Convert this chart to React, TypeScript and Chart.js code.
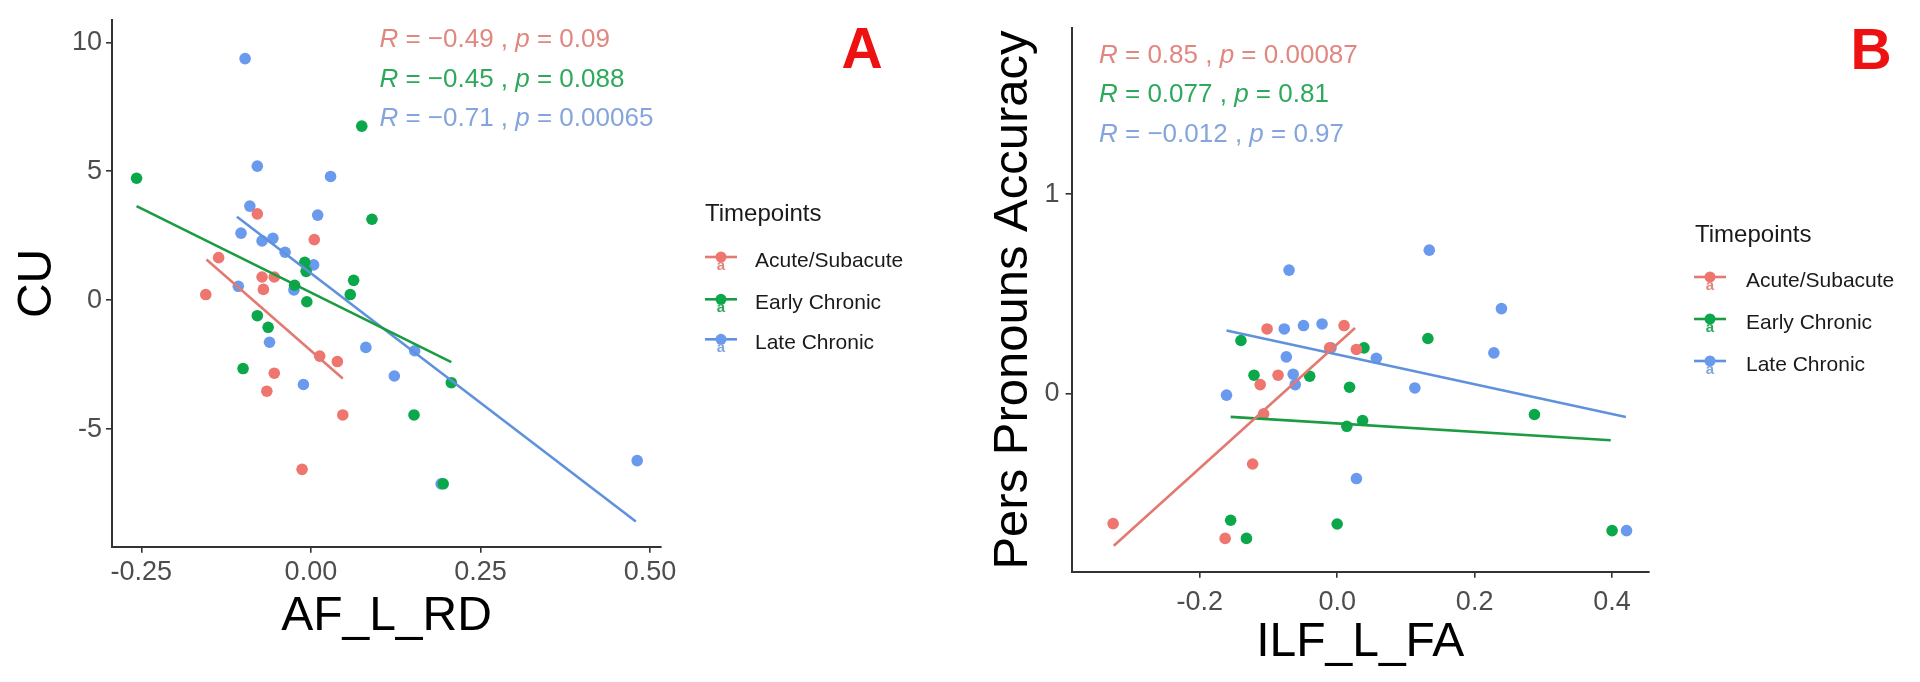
import React, { useEffect, useRef } from "react";
import { Chart, registerables } from "chart.js";

Chart.register(...registerables);

const FONT = "'Liberation Sans', Arial, Helvetica, sans-serif";

const groups = ["Acute/Subacute", "Early Chronic", "Late Chronic"];
const pointColors = ["#EE766E", "#0AA84B", "#6A9AEE"];
const lineColors = ["#E27A71", "#1B9C42", "#5F91DD"];
const statColors = ["#E0877F", "#2EA95C", "#84A5DC"];

// ---------- Panel A : AF_L_RD vs CU ----------
const aAcuteX = [-0.079, 0.005, -0.136, -0.155, -0.072, -0.054, -0.070, 0.013, 0.039, -0.054, -0.065, 0.047, -0.013];
const aAcuteY = [3.35, 2.35, 1.65, 0.22, 0.90, 0.90, 0.42, -2.17, -2.38, -2.83, -3.53, -4.45, -6.56];
const aEarlyX = [-0.257, 0.075, 0.090, -0.009, -0.007, 0.063, -0.024, 0.058, -0.006, -0.079, -0.063, -0.100, 0.207, 0.152, 0.195];
const aEarlyY = [4.73, 6.75, 3.14, 1.47, 1.12, 0.77, 0.58, 0.22, -0.06, -0.60, -1.05, -2.65, -3.20, -4.45, -7.12];
const aLateX = [-0.097, -0.079, 0.029, -0.090, 0.010, -0.103, -0.072, -0.056, -0.038, 0.004, -0.107, -0.025, -0.061, 0.081, 0.153, 0.123, -0.011, 0.192, 0.481];
const aLateY = [9.37, 5.2, 4.8, 3.65, 3.3, 2.6, 2.3, 2.4, 1.86, 1.37, 0.54, 0.40, -1.63, -1.83, -1.96, -2.94, -3.27, -7.12, -6.22];
const aAcuteFitX = [-0.154, 0.047];
const aAcuteFitY = [1.58, -3.04];
const aEarlyFitX = [-0.257, 0.207];
const aEarlyFitY = [3.65, -2.4];
const aLateFitX = [-0.109, 0.479];
const aLateFitY = [3.24, -8.58];
const aXTicks = [-0.25, 0, 0.25, 0.5];
const aXTickLabels = ["-0.25", "0.00", "0.25", "0.50"];
const aYTicks = [-5, 0, 5, 10];
const aYTickLabels = ["-5", "0", "5", "10"];
const aStatR = ["\u22120.49", "\u22120.45", "\u22120.71"];
const aStatP = ["0.09", "0.088", "0.00065"];

// ---------- Panel B : ILF_L_FA vs Pers Pronouns Accuracy ----------
const bAcuteX = [-0.102, 0.010, -0.011, 0.028, -0.086, -0.112, -0.107, -0.123, -0.326, -0.163];
const bAcuteY = [0.324, 0.341, 0.229, 0.221, 0.092, 0.045, -0.102, -0.353, -0.652, -0.726];
const bEarlyX = [-0.140, 0.132, 0.039, -0.121, -0.040, 0.018, 0.037, 0.014, 0.287, -0.155, -0.132, 0.000, 0.400];
const bEarlyY = [0.266, 0.276, 0.229, 0.092, 0.087, 0.032, -0.135, -0.164, -0.105, -0.635, -0.726, -0.654, -0.687];
const bLateX = [-0.070, 0.134, 0.239, -0.077, -0.049, -0.022, -0.009, -0.074, 0.057, 0.228, -0.064, -0.061, 0.113, -0.161, 0.028, 0.421];
const bLateY = [0.619, 0.719, 0.426, 0.324, 0.341, 0.349, 0.229, 0.184, 0.177, 0.204, 0.097, 0.045, 0.028, -0.008, -0.426, -0.687];
const bAcuteFitX = [-0.325, 0.026];
const bAcuteFitY = [-0.763, 0.329];
const bEarlyFitX = [-0.155, 0.398];
const bEarlyFitY = [-0.117, -0.234];
const bLateFitX = [-0.161, 0.420];
const bLateFitY = [0.316, -0.117];
const bXTicks = [-0.2, 0, 0.2, 0.4];
const bXTickLabels = ["-0.2", "0.0", "0.2", "0.4"];
const bYTicks = [0, 1];
const bYTickLabels = ["0", "1"];
const bStatR = ["0.85", "0.077", "\u22120.012"];
const bStatP = ["0.00087", "0.81", "0.97"];

type Spec = {
  left: number;
  xs: number[][];
  ys: number[][];
  fitXs: number[][];
  fitYs: number[][];
  xMin: number; xMax: number; yMin: number; yMax: number;
  xTicks: number[]; xTickLabels: string[];
  yTicks: number[]; yTickLabels: string[];
  xTitle: string; yTitle: string;
  xTitleSize: number; yTitleSize: number;
  xTitlePad: number; yTitlePad: number;
  area: { left: number; top: number; right: number; bottom: number };
  xTickPad: number; yTickPad: number;
  statR: string[]; statP: string[];
  statX: number; statYs: number[];
  legTitleX: number; legTitleY: number; legKeyX: number; legTextX: number; legYs: number[];
  letter: string; letterX: number; letterY: number;
};

const W = 960;
const H = 682;
const AXIS = "#333333";
const TICK_COLOR = "#4D4D4D";

function drawStat(ctx: CanvasRenderingContext2D, x: number, y: number, r: string, p: string, color: string) {
  const size = 26;
  const it = `italic ${size}px ${FONT}`;
  const nm = `${size}px ${FONT}`;
  const segs: [string, string][] = [[it, "R"], [nm, " = " + r + " , "], [it, "p"], [nm, " = " + p]];
  ctx.fillStyle = color;
  ctx.textAlign = "left";
  ctx.textBaseline = "alphabetic";
  let cx = x;
  for (const [f, t] of segs) {
    ctx.font = f;
    ctx.fillText(t, cx, y);
    cx += ctx.measureText(t).width;
  }
}

function makeConfig(s: Spec): any {
  const datasets: any[] = [];
  for (let g = 0; g < 3; g++) {
    datasets.push({
      label: groups[g] + " fit",
      data: s.fitXs[g].map((x, i) => ({ x, y: s.fitYs[g][i] })),
      showLine: true,
      borderColor: lineColors[g],
      backgroundColor: lineColors[g],
      borderWidth: 2.6,
      pointRadius: 0,
      fill: false,
      order: 0,
    });
  }
  for (let g = 0; g < 3; g++) {
    datasets.push({
      label: groups[g],
      data: s.xs[g].map((x, i) => ({ x, y: s.ys[g][i] })),
      backgroundColor: pointColors[g],
      borderColor: pointColors[g],
      borderWidth: 0,
      pointRadius: 5.8,
      pointHoverRadius: 5.8,
      order: 1,
    });
  }

  const overlay = {
    id: "overlay" + s.letter,
    afterDraw(chart: any) {
      const ctx: CanvasRenderingContext2D = chart.ctx;
      ctx.save();
      // correlation labels
      for (let g = 0; g < 3; g++) {
        drawStat(ctx, s.statX, s.statYs[g], s.statR[g], s.statP[g], statColors[g]);
      }
      // legend
      ctx.fillStyle = "#1A1A1A";
      ctx.textAlign = "left";
      ctx.textBaseline = "middle";
      ctx.font = `24px ${FONT}`;
      ctx.fillText("Timepoints", s.legTitleX, s.legTitleY);
      for (let g = 0; g < 3; g++) {
        const cy = s.legYs[g];
        ctx.strokeStyle = lineColors[g];
        ctx.lineWidth = 2.6;
        ctx.beginPath();
        ctx.moveTo(s.legKeyX - 16, cy - 4);
        ctx.lineTo(s.legKeyX + 16, cy - 4);
        ctx.stroke();
        ctx.fillStyle = pointColors[g];
        ctx.beginPath();
        ctx.arc(s.legKeyX, cy - 4, 5.5, 0, Math.PI * 2);
        ctx.fill();
        ctx.fillStyle = statColors[g];
        ctx.font = `bold 15px ${FONT}`;
        ctx.textAlign = "center";
        ctx.fillText("a", s.legKeyX, cy + 5);
        ctx.textAlign = "left";
        ctx.fillStyle = "#1A1A1A";
        ctx.font = `21px ${FONT}`;
        ctx.fillText(groups[g], s.legTextX, cy);
      }
      // panel letter
      ctx.fillStyle = "#EE1111";
      ctx.font = `bold 57px ${FONT}`;
      ctx.textAlign = "center";
      ctx.textBaseline = "middle";
      ctx.fillText(s.letter, s.letterX, s.letterY);
      ctx.restore();
    },
  };

  const tickFont = { family: FONT, size: 27 };

  return {
    type: "scatter",
    data: { datasets },
    options: {
      animation: false,
      responsive: false,
      maintainAspectRatio: false,
      devicePixelRatio: 1,
      events: [],
      layout: { padding: { left: 0, top: s.area.top, right: W - s.area.right, bottom: 0 } },
      plugins: { legend: { display: false }, tooltip: { enabled: false }, title: { display: false } },
      scales: {
        x: {
          type: "linear",
          position: "bottom",
          min: s.xMin,
          max: s.xMax,
          afterBuildTicks: (sc: any) => { sc.ticks = s.xTicks.map((v) => ({ value: v })); },
          afterFit: (sc: any) => { sc.height = H - s.area.bottom; },
          ticks: {
            autoSkip: false,
            maxRotation: 0,
            minRotation: 0,
            padding: s.xTickPad,
            color: TICK_COLOR,
            font: tickFont,
            callback: (v: number) => { const i = s.xTicks.findIndex((t) => Math.abs(t - v) < 1e-9); return i >= 0 ? s.xTickLabels[i] : ""; },
          },
          grid: { display: true, drawOnChartArea: false, drawTicks: true, tickLength: 6, color: AXIS, lineWidth: 1.6 },
          border: { display: true, color: AXIS, width: 2 },
          title: { display: true, text: s.xTitle, color: "#000", font: { family: FONT, size: s.xTitleSize }, padding: { top: 0, bottom: s.xTitlePad } },
        },
        y: {
          type: "linear",
          position: "left",
          min: s.yMin,
          max: s.yMax,
          afterBuildTicks: (sc: any) => { sc.ticks = s.yTicks.map((v) => ({ value: v })); },
          afterFit: (sc: any) => { sc.width = s.area.left; },
          ticks: {
            autoSkip: false,
            padding: s.yTickPad,
            color: TICK_COLOR,
            font: tickFont,
            callback: (v: number) => { const i = s.yTicks.findIndex((t) => Math.abs(t - v) < 1e-9); return i >= 0 ? s.yTickLabels[i] : ""; },
          },
          grid: { display: true, drawOnChartArea: false, drawTicks: true, tickLength: 6, color: AXIS, lineWidth: 1.6 },
          border: { display: true, color: AXIS, width: 2 },
          title: { display: true, text: s.yTitle, color: "#000", font: { family: FONT, size: s.yTitleSize }, padding: { top: s.yTitlePad, bottom: 0 } },
        },
      },
    },
    plugins: [overlay],
  };
}

const specA: Spec = {
  left: 0,
  xs: [aAcuteX, aEarlyX, aLateX],
  ys: [aAcuteY, aEarlyY, aLateY],
  fitXs: [aAcuteFitX, aEarlyFitX, aLateFitX],
  fitYs: [aAcuteFitY, aEarlyFitY, aLateFitY],
  xMin: -0.2932, xMax: 0.5161, yMin: -9.56, yMax: 10.86,
  xTicks: aXTicks, xTickLabels: aXTickLabels, yTicks: aYTicks, yTickLabels: aYTickLabels,
  xTitle: "AF_L_RD", yTitle: "CU",
  xTitleSize: 48, yTitleSize: 48,
  xTitlePad: 36.7, yTitlePad: 9.2,
  area: { left: 112, top: 15, right: 661, bottom: 546.7 },
  xTickPad: 4, yTickPad: 4,
  statR: aStatR, statP: aStatP,
  statX: 379.4, statYs: [46.7, 87, 126],
  legTitleX: 705, legTitleY: 214.3, legKeyX: 721, legTextX: 755, legYs: [261, 303.3, 343.3],
  letter: "A", letterX: 862, letterY: 52.5,
};

const specB: Spec = {
  left: 960,
  xs: [bAcuteX, bEarlyX, bLateX],
  ys: [bAcuteY, bEarlyY, bLateY],
  fitXs: [bAcuteFitX, bEarlyFitX, bLateFitX],
  fitYs: [bAcuteFitY, bEarlyFitY, bLateFitY],
  xMin: -0.3864, xMax: 0.4534, yMin: -0.893, yMax: 1.831,
  xTicks: bXTicks, xTickLabels: bXTickLabels, yTicks: bYTicks, yTickLabels: bYTickLabels,
  xTitle: "ILF_L_FA", yTitle: "Pers Pronouns Accuracy",
  xTitleSize: 48, yTitleSize: 49,
  xTitlePad: 10.7, yTitlePad: 24,
  area: { left: 111.6, top: 28.3, right: 688.8, bottom: 571.7 },
  xTickPad: 8.6, yTickPad: 6,
  statR: bStatR, statP: bStatP,
  statX: 139, statYs: [62.7, 101.7, 141.7],
  legTitleX: 735, legTitleY: 235, legKeyX: 750, legTextX: 786, legYs: [281, 323, 365],
  letter: "B", letterX: 911, letterY: 53,
};

function Panel({ spec }: { spec: Spec }) {
  const ref = useRef<HTMLCanvasElement | null>(null);
  useEffect(() => {
    if (!ref.current) return;
    const chart = new Chart(ref.current, makeConfig(spec));
    return () => chart.destroy();
  }, [spec]);
  return (
    <canvas
      ref={ref}
      width={W}
      height={H}
      style={{ position: "absolute", left: spec.left, top: 0, width: W, height: H, display: "block" }}
    />
  );
}

export default function App() {
  return (
    <div style={{ position: "fixed", left: 0, top: 0, width: 1920, height: 682, background: "#fff", overflow: "hidden" }}>
      <Panel spec={specA} />
      <Panel spec={specB} />
    </div>
  );
}
